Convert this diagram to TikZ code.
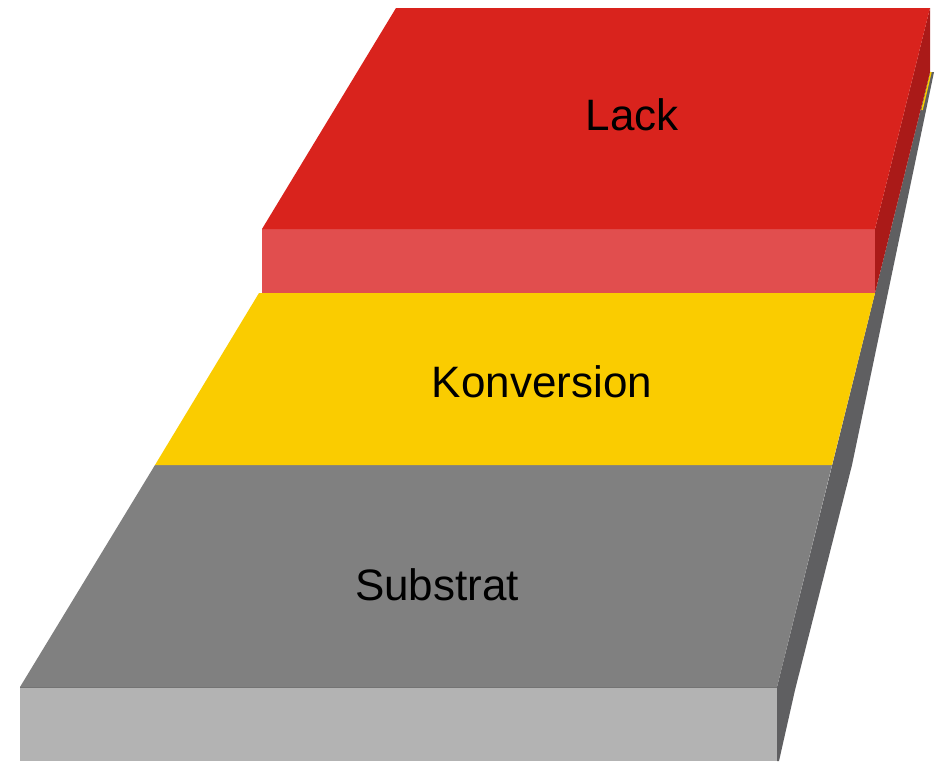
\documentclass[tikz,border=0pt]{standalone}
\usepackage{fontspec}
\setmainfont{Liberation Sans}
\definecolor{lacktop}{HTML}{D9231D}
\definecolor{lackfront}{HTML}{E14E4E}
\definecolor{lackside}{HTML}{AA1A18}
\definecolor{konv}{HTML}{FACC00}
\definecolor{subtop}{HTML}{808080}
\definecolor{subfront}{HTML}{B3B3B3}
\definecolor{subside}{HTML}{5F5F61}
\begin{document}
\begin{tikzpicture}[x=1pt,y=-1pt,
  layerlabel/.style={font=\fontsize{44}{44}\selectfont, anchor=base, inner sep=0pt, text=black}]
\useasboundingbox (0,0) rectangle (937,761);
\fill[white] (0,0) rectangle (937,761);

% substrate: right side face
\fill[subside] (777,687) -- (930,72) -- (934,72) -- (852,465) -- (795,690)
  -- (779,761) -- (777,761) -- cycle;
% substrate: front face
\fill[subfront] (20,687) rectangle (777,761);
\draw[subtop!90!black, line width=0.8pt] (20,687) -- (777,687);
% substrate: top face
\fill[subtop] (155,465) -- (832,465) -- (777,687) -- (20,687) -- cycle;

% conversion layer on the substrate
\fill[konv] (259,293) -- (875,293) -- (832,465) -- (155,465) -- cycle;
\draw[konv, line width=1.5pt] (931,72) -- (922,110);

% lacquer block
\fill[lackside] (930,8) -- (930,72) -- (875,293) -- (875,229) -- cycle;
\fill[lackfront] (262,229) rectangle (875,293);
\fill[lacktop] (396,8) -- (930,8) -- (875,229) -- (262,229) -- cycle;

% labels
\node[layerlabel] (lack) at (632,130) {Lack};
\node[layerlabel] (konversion) at (542,397) {Konversion};
\node[layerlabel] (substrat) at (437,600) {Substrat};
\end{tikzpicture}
\end{document}
